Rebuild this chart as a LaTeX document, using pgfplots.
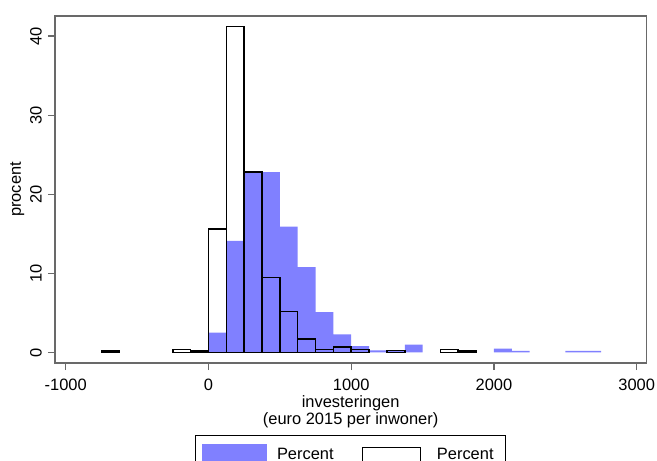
\documentclass[border=0pt]{standalone}
\usepackage{pgfplots}
\pgfplotsset{compat=1.18}
\usepackage{fontspec}
\setmainfont{Liberation Sans}
\definecolor{barblue}{RGB}{128,128,255}
\definecolor{framegray}{RGB}{105,105,105}
\newcommand{\lbl}{\fontsize{16.5}{17.3}\selectfont}
\begin{document}
\begin{tikzpicture}
\begin{axis}[
  at={(55bp,98bp)}, anchor=south west,
  scale only axis, width=591.3bp, height=347bp,
  xmin=-1075, xmax=3067, ymin=-1.33, ymax=42.53,
  xtick={-1000,0,1000,2000,3000},
  ytick={0,10,20,30,40},
  scaled x ticks=false, scaled y ticks=false,
  tick align=outside, xtick pos=left, ytick pos=left,
  major tick length=7bp,
  every tick/.style={framegray, line width=1.2bp},
  axis line style={framegray, line width=1.5bp},
  /pgf/number format/assume math mode=true,
  /pgf/number format/set thousands separator={},
  tick label style={font=\lbl, black},
  yticklabel style={xshift=-6.3bp, rotate=90, anchor=base, inner sep=0pt},
  xticklabel style={yshift=-8.6bp, anchor=north, inner sep=0pt},
  xlabel={investeringen\\(euro 2015 per inwoner)},
  xlabel style={font=\lbl, align=center, at={([yshift=-32bp]axis description cs:0.5,0)}, anchor=north, inner sep=0pt},
  ylabel={procent},
  ylabel style={font=\lbl, at={([xshift=-34bp]axis description cs:0,0.5)}, anchor=base, inner sep=0pt},
  legend columns=2,
  legend style={at={(axis description cs:0.5,-0.2084)}, anchor=north, font=\lbl,
    draw=black, line width=1bp, fill=white, inner xsep=6.7bp, inner ysep=8.3bp,
    column sep=0pt, nodes={inner sep=0pt, text height=11.8bp, text depth=0pt, yshift=1.5bp}},
]
\addplot[ybar, bar width=125, bar shift=0pt, fill=barblue, draw=none, mark=none,
  legend image code/.code={\fill[barblue] (0bp,-14bp) rectangle (64.6bp,10.8bp); \path (74.7bp,0bp);}]
  coordinates {(62.5,2.5) (187.5,14.1) (312.5,22.8) (437.5,22.8) (562.5,15.9) (687.5,10.8) (812.5,5.1) (937.5,2.3) (1062.5,0.8) (1187.5,0.25) (1312.5,0.2) (1437.5,1.0) (2062.5,0.5) (2187.5,0.2) (2562.5,0.2) (2687.5,0.2)};
\addlegendentry{Percent}
\addplot[ybar, bar width=125, bar shift=0pt, fill=none, draw=black, line width=1.6bp, mark=none,
  legend image code/.code={\path (-28.4bp,0bp); \draw[black, line width=1.1bp] (0bp,-14bp) rectangle (58bp,7.4bp); \path (73.3bp,0bp);}]
  coordinates {(-687.5,0.2) (-187.5,0.4) (-62.5,0.2) (62.5,15.6) (187.5,41.2) (312.5,22.8) (437.5,9.5) (562.5,5.2) (687.5,1.7) (812.5,0.4) (937.5,0.7) (1062.5,0.4) (1312.5,0.25) (1687.5,0.4) (1812.5,0.2)};
\addlegendentry{Percent\hspace*{5.4bp}}
\end{axis}
\pgfresetboundingbox
\useasboundingbox (0bp,0bp) rectangle (657bp,461bp);
\end{tikzpicture}
\end{document}
